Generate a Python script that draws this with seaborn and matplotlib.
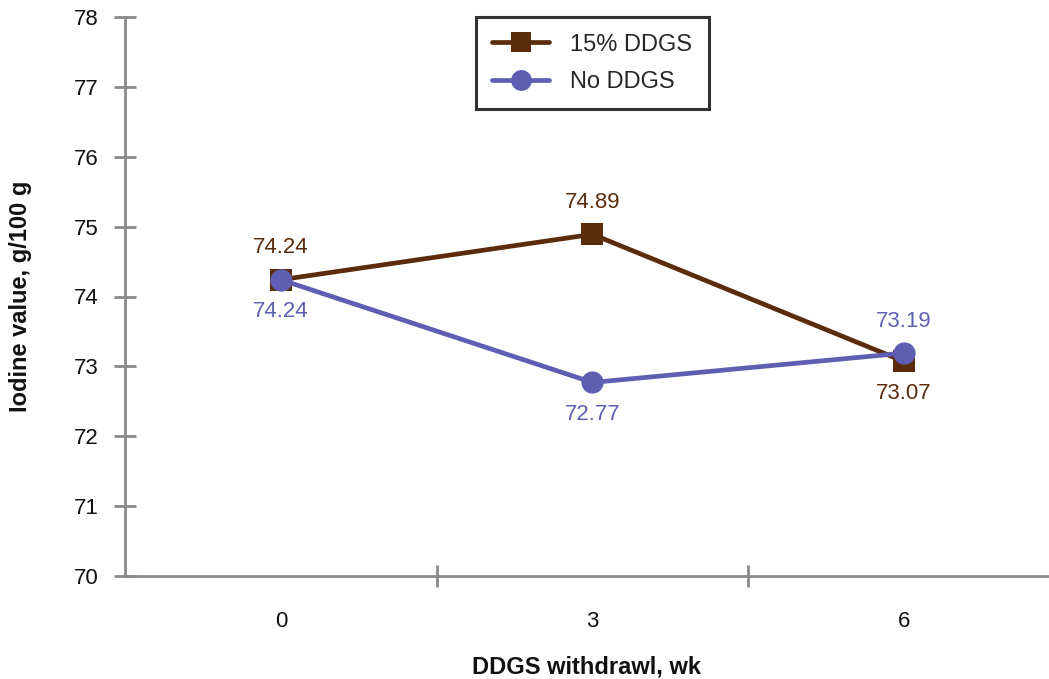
import matplotlib
matplotlib.use("Agg")
import matplotlib.pyplot as plt
import seaborn as sns
import pandas as pd
from matplotlib.lines import Line2D

weeks = ["0", "3", "6"]
ddgs15 = [74.24, 74.89, 73.07]
no_ddgs = [74.24, 72.77, 73.19]
series_names = ["15% DDGS", "No DDGS"]
y_ticks = [70, 71, 72, 73, 74, 75, 76, 77, 78]

brown = "#5b2c0b"
blue = "#5e5fb2"
grey = "#8a8a8a"

df = pd.DataFrame({
    "week": weeks * 2,
    "iv": ddgs15 + no_ddgs,
    "diet": [series_names[0]] * 3 + [series_names[1]] * 3,
})

sns.set_theme(style="white")
plt.rcParams["font.family"] = ["Liberation Sans", "DejaVu Sans"]

fig = plt.figure(figsize=(10.49, 6.79), dpi=100)
ax = fig.add_axes([125 / 1049, 1 - 576 / 679, 1 - 125 / 1049, (576 - 17) / 679])

sns.lineplot(data=df, x="week", y="iv", hue="diet", style="diet",
             hue_order=series_names, style_order=series_names,
             palette={series_names[0]: brown, series_names[1]: blue},
             markers={series_names[0]: "s", series_names[1]: "o"},
             dashes=False, markersize=16, linewidth=3.4,
             markeredgewidth=0, legend=False, ax=ax)

ax.set_xlim(-0.5, 2.465)
ax.set_ylim(70, 78)
ax.set_yticks(y_ticks)
ax.set_yticklabels([str(v) for v in y_ticks])
ax.set_xticks([0, 1, 2])
ax.set_xticklabels(weeks)
ax.set_xticks([0.5, 1.5], minor=True)

fs = 16
ax.tick_params(axis="x", which="major", length=0, pad=25, labelsize=fs, labelcolor="#111111")
ax.tick_params(axis="x", which="minor", length=16, width=2, direction="inout", color=grey, bottom=True)
ax.tick_params(axis="y", which="major", length=16, width=2, direction="inout", color=grey,
               pad=11, labelsize=fs, labelcolor="#111111", left=True)

for s in ["top", "right"]:
    ax.spines[s].set_visible(False)
for s in ["left", "bottom"]:
    ax.spines[s].set_color(grey)
    ax.spines[s].set_linewidth(2)

ax.set_xlabel("DDGS withdrawl, wk", fontsize=17, fontweight="bold", labelpad=17, color="#111111")
ax.set_ylabel("Iodine value, g/100 g", fontsize=17, fontweight="bold", labelpad=30, color="#111111")

# value labels
offs_15 = [23, 23, -23]
offs_no = [-23, -23, 23]
for i, (v, o) in enumerate(zip(ddgs15, offs_15)):
    ax.annotate(f"{v:.2f}", (i, v), xytext=(0, o), textcoords="offset points",
                ha="center", va="center", fontsize=fs, color=brown)
for i, (v, o) in enumerate(zip(no_ddgs, offs_no)):
    ax.annotate(f"{v:.2f}", (i, v), xytext=(0, o), textcoords="offset points",
                ha="center", va="center", fontsize=fs, color=blue)

handles = [
    Line2D([], [], color=brown, marker="s", markersize=15, linewidth=3.4, markeredgewidth=0),
    Line2D([], [], color=blue, marker="o", markersize=15, linewidth=3.4, markeredgewidth=0),
]
leg = ax.legend(handles, series_names, loc="upper center", bbox_to_anchor=(1, 78),
                bbox_transform=ax.transData, borderaxespad=0, fontsize=17,
                frameon=True, fancybox=False, edgecolor="black", handlelength=2.4,
                borderpad=0.7, labelspacing=0.65, handletextpad=0.9)
leg.get_frame().set_linewidth(2.2)

fig.savefig("out.png", dpi=100)
